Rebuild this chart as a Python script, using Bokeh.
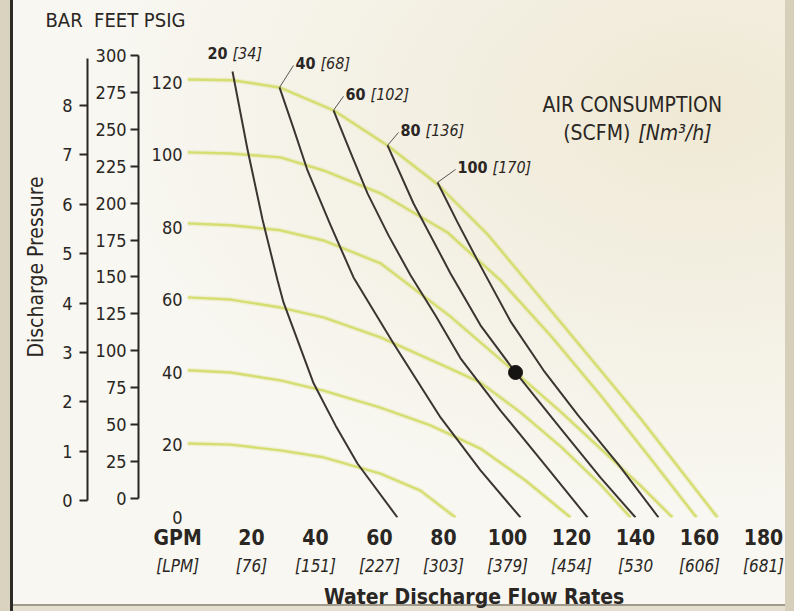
from bokeh.plotting import figure
from bokeh.models import Range1d, LinearAxis, FixedTicker, Label, Title
from bokeh.embed import file_html
from bokeh.resources import INLINE

# ---------------- data ----------------
gpm_ticks = [0, 20, 40, 60, 80, 100, 120, 140, 160, 180]
gpm_labels = ["GPM", "20", "40", "60", "80", "100", "120", "140", "160", "180"]
lpm_labels = ["[LPM]", "[76]", "[151]", "[227]", "[303]", "[379]", "[454]", "[530", "[606]", "[681]"]
psig_ticks = [0, 20, 40, 60, 80, 100, 120]
feet_ticks = [0, 25, 50, 75, 100, 125, 150, 175, 200, 225, 250, 275, 300]
bar_ticks = [0, 1, 2, 3, 4, 5, 6, 7, 8]

# air consumption curves (SCFM) [Nm3/h]
scfm_values = [20, 40, 60, 80, 100]
nm3h_values = [34, 68, 102, 136, 170]

scfm20_gpm = [14.06, 18.75, 23.44, 28.13, 30.0, 39.4, 46.25, 53.1, 65.6]
scfm20_psig = [123.0, 101.5, 82.2, 65.4, 59.3, 37.0, 25.4, 14.9, 0]
scfm40_gpm = [28.75, 33.13, 37.5, 44.69, 51.88, 64.38, 79.06, 91.56, 104.06]
scfm40_psig = [118.6, 107.3, 95.7, 80.6, 66.2, 48.0, 27.6, 13.0, 0]
scfm60_gpm = [45.63, 50.94, 56.25, 62.81, 69.69, 77.5, 85.31, 97.81, 111.88, 125.0]
scfm60_psig = [112.3, 100.7, 89.4, 77.8, 66.8, 55.7, 43.9, 29.5, 14.3, 0]
scfm80_gpm = [62.5, 70.63, 82.19, 91.56, 102.5, 116.56, 129.06, 140.0]
scfm80_psig = [102.6, 86.6, 67.3, 53.0, 40.0, 24.6, 11.0, 0]
scfm100_gpm = [78.13, 84.38, 90.63, 100.94, 111.25, 121.88, 134.69, 147.19]
scfm100_psig = [92.4, 81.4, 70.9, 54.1, 40.6, 28.4, 14.6, 0]

# air inlet pressure curves (psig)
air120_gpm = [0, 14.06, 28.75, 45.63, 62.5, 78.13, 93.75, 115.63, 141.56, 165.63]
air120_psig = [120.8, 120.6, 118.6, 112.3, 102.6, 91.9, 78.1, 54.9, 27.3, 0]
air100_gpm = [0, 13.44, 29.06, 42.5, 60.31, 81.25, 97.81, 113.44, 129.06, 144.69, 159.06]
air100_psig = [100.7, 100.4, 99.3, 95.7, 89.4, 78.6, 65.4, 50.2, 33.7, 16.3, 0]
air80_gpm = [0, 13.44, 29.06, 42.5, 60.31, 82.19, 102.5, 116.56, 129.06, 141.56, 151.56]
air80_psig = [81.1, 80.6, 79.2, 76.4, 70.1, 55.4, 40.0, 29.2, 19.0, 8.8, 0]
air60_gpm = [0, 13.44, 29.06, 42.5, 60.31, 81.25, 91.56, 104.06, 116.56, 129.06, 138.44]
air60_psig = [60.7, 60.1, 57.9, 55.2, 49.7, 41.4, 37.2, 29.0, 19.6, 9.1, 0]
air40_gpm = [0, 13.44, 29.06, 42.5, 60.31, 75.94, 91.56, 105.63, 119.69]
air40_psig = [40.6, 40.0, 37.8, 35.0, 30.3, 25.4, 19.0, 10.2, 0]
air20_gpm = [0, 13.44, 29.06, 42.5, 60.31, 72.81, 83.75]
air20_psig = [20.4, 20.1, 18.5, 16.6, 12.1, 7.4, 0]

example_gpm = [102.5]
example_psig = [40.0]

# ---------------- styling ----------------
FONT = "DejaVu Sans Condensed"
INK = "#2a2623"
CURVE = "#3b3430"
YEL = "#d4dc6c"
NB = "\u00a0"

p = figure(width=794, height=611, x_range=Range1d(0, 185.3), y_range=Range1d(0, 133.2),
           output_backend="svg", toolbar_location=None,
           min_border_left=187, min_border_right=14, min_border_top=34, min_border_bottom=94)
p.grid.visible = False
p.outline_line_color = None
p.background_fill_alpha = 0
p.border_fill_alpha = 0
p.styles = {
    "background": (
        "linear-gradient(to right, #d9d3c0 0px, #d9d3c0 10px, #2e2a26 10px, #2e2a26 13px, "
        "rgba(0,0,0,0) 13px, rgba(0,0,0,0) 785px, #d6cfb9 785px), "
        "linear-gradient(to bottom, rgba(0,0,0,0) 0px, rgba(0,0,0,0) 604px, #a09a8c 604px, "
        "#a09a8c 606px, #e4dfcf 606px), "
        "radial-gradient(ellipse 75% 65% at 88% 18%, #efe9d4 0%, #f3efe2 45%, #f8f7f1 100%)"
    )
}

p.extra_y_ranges = {"feet": Range1d(-12.87, 314.2), "bar": Range1d(-0.344, 9.438)}

# PSIG axis (innermost)
ya = p.yaxis[0]
ya.ticker = FixedTicker(ticks=psig_ticks)
ya.major_label_overrides = {120: NB * 2 + "120"}
ya.axis_line_color = None
ya.major_tick_line_color = None
ya.minor_tick_line_color = None
ya.major_tick_out = 0
ya.major_tick_in = 0
ya.major_label_standoff = 5
ya.major_label_text_font = FONT
ya.major_label_text_font_size = "18px"
ya.major_label_text_color = INK

def side_axis(rng, ticks, top):
    ax = LinearAxis(y_range_name=rng, ticker=FixedTicker(ticks=ticks), bounds=(0, top))
    ax.axis_line_color = INK
    ax.axis_line_width = 2
    ax.major_tick_line_color = INK
    ax.major_tick_line_width = 2
    ax.major_tick_out = 8
    ax.major_tick_in = 0
    ax.minor_tick_line_color = None
    ax.major_label_standoff = 4
    ax.major_label_text_font = FONT
    ax.major_label_text_font_size = "18px"
    ax.major_label_text_color = INK
    return ax

feet_axis = side_axis("feet", feet_ticks, 300)
feet_axis.major_label_overrides = {300: NB + "300"}
p.add_layout(feet_axis, "left")

bar_axis = side_axis("bar", bar_ticks, 8.95)
bar_axis.major_label_standoff = 7
bar_axis.axis_label = NB * 3 + "Discharge Pressure"
bar_axis.axis_label_text_font = FONT
bar_axis.axis_label_text_font_size = "21px"
bar_axis.axis_label_text_font_style = "normal"
bar_axis.axis_label_text_color = INK
bar_axis.axis_label_standoff = 11
p.add_layout(bar_axis, "left")

# scale titles above the pressure axes
p.add_layout(Title(text="BAR" + NB * 2 + "FEET" + NB + "PSIG", align="left", offset=-142,
                   text_font=FONT, text_font_size="20px", text_font_style="normal",
                   text_color=INK, standoff=5), "above")

# GPM axis (bold) and LPM axis (italic)
xa = p.xaxis[0]
xa.ticker = FixedTicker(ticks=gpm_ticks)
xa.major_label_overrides = dict(zip(gpm_ticks, [gpm_labels[0] + NB * 3] + gpm_labels[1:]))
xa.axis_line_color = None
xa.major_tick_line_color = None
xa.minor_tick_line_color = None
xa.major_tick_out = 0
xa.major_tick_in = 0
xa.major_label_standoff = 8
xa.major_label_text_font = FONT
xa.major_label_text_font_style = "bold"
xa.major_label_text_font_size = "21px"
xa.major_label_text_color = INK

lpm_axis = LinearAxis(ticker=FixedTicker(ticks=gpm_ticks),
                      major_label_overrides=dict(zip(gpm_ticks,
                                                     [lpm_labels[0] + NB * 4] + lpm_labels[1:])))
lpm_axis.axis_line_color = None
lpm_axis.major_tick_line_color = None
lpm_axis.minor_tick_line_color = None
lpm_axis.major_tick_out = 0
lpm_axis.major_tick_in = 0
lpm_axis.major_label_standoff = 3
lpm_axis.major_label_text_font = FONT
lpm_axis.major_label_text_font_style = "italic"
lpm_axis.major_label_text_font_size = "17px"
lpm_axis.major_label_text_color = INK
lpm_axis.axis_label = "Water Discharge Flow Rates" + NB * 3
lpm_axis.axis_label_text_font = FONT
lpm_axis.axis_label_text_font_style = "bold"
lpm_axis.axis_label_text_font_size = "21px"
lpm_axis.axis_label_text_color = INK
lpm_axis.axis_label_standoff = 6
p.add_layout(lpm_axis, "below")

# ---------------- curves ----------------
air_curves = [(air120_gpm, air120_psig), (air100_gpm, air100_psig), (air80_gpm, air80_psig),
              (air60_gpm, air60_psig), (air40_gpm, air40_psig), (air20_gpm, air20_psig)]
for xs, ys in air_curves:
    p.line(xs, ys, line_color=YEL, line_width=5, line_alpha=0.22, line_join="round")
    p.line(xs, ys, line_color=YEL, line_width=2.4, line_alpha=0.95, line_join="round")

scfm_curves = [(scfm20_gpm, scfm20_psig), (scfm40_gpm, scfm40_psig), (scfm60_gpm, scfm60_psig),
               (scfm80_gpm, scfm80_psig), (scfm100_gpm, scfm100_psig)]
for xs, ys in scfm_curves:
    p.line(xs, ys, line_color=CURVE, line_width=2, line_join="round")

p.scatter(example_gpm, example_psig, size=14, color="#161412")

# curve labels: offsets in screen px from the top of each curve
PX_X = 3.2    # px per gpm
PX_Y = 3.625  # px per psig
bold_dx = [-25, 16, 12, 13, 20]
ital_dx = [0, 41, 37, 38, 55]
lab_dy = [18, 24, 16, 15, 15]
for i, (xs, ys) in enumerate(scfm_curves):
    x0, y0 = xs[0], ys[0]
    p.add_layout(Label(x=x0, y=y0, x_offset=bold_dx[i], y_offset=lab_dy[i],
                       text=str(scfm_values[i]), text_font=FONT, text_font_style="bold",
                       text_font_size="16px", text_color=INK, text_baseline="middle"))
    p.add_layout(Label(x=x0, y=y0, x_offset=ital_dx[i], y_offset=lab_dy[i],
                       text="[%d]" % nm3h_values[i], text_font=FONT, text_font_style="italic",
                       text_font_size="16px", text_color=INK, text_baseline="middle"))
    if i > 0:
        p.segment(x0=[x0], y0=[y0], x1=[x0 + (bold_dx[i] - 2) / PX_X],
                  y1=[y0 + (lab_dy[i] - 2) / PX_Y], line_color="#555", line_width=1)

# legend title text
p.add_layout(Label(x=139, y=113.7, text="AIR CONSUMPTION", text_font=FONT,
                   text_font_size="21px", text_color=INK, text_align="center",
                   text_baseline="middle"))
p.add_layout(Label(x=139, y=105.9, x_offset=-2, text="(SCFM)", text_font=FONT,
                   text_font_size="21px", text_color=INK, text_align="right",
                   text_baseline="middle"))
p.add_layout(Label(x=139, y=105.9, x_offset=6, text="[Nm\u00b3/h]", text_font=FONT,
                   text_font_style="italic", text_font_size="21px", text_color=INK,
                   text_align="left", text_baseline="middle"))

open("out.html", "w").write(file_html(p, INLINE))
